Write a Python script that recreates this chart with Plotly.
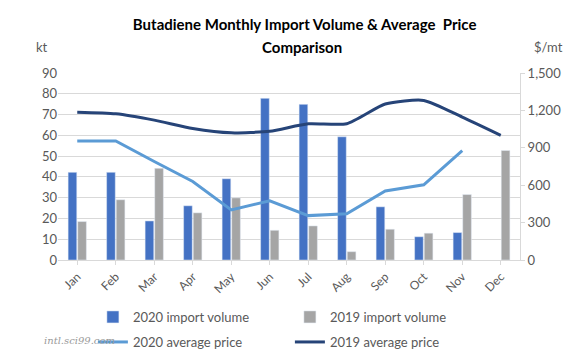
import plotly.graph_objects as go

months = ["Jan", "Feb", "Mar", "Apr", "May", "Jun", "Jul", "Aug", "Sep", "Oct", "Nov", "Dec"]
vol_2020 = [42.2, 42.2, 18.8, 26.1, 39.1, 77.8, 74.9, 59.3, 25.6, 11.2, 13.2, None]
vol_2019 = [18.5, 29.0, 44.1, 22.7, 29.9, 14.3, 16.4, 4.0, 14.8, 12.9, 31.5, 52.7]
price_2020 = [955, 955, 790, 630, 402, 475, 356, 370, 554, 603, 878, None]
price_2019 = [1186, 1173, 1122, 1055, 1020, 1033, 1093, 1093, 1251, 1280, 1146, 1000]
left_ticks = list(range(0, 91, 10))
right_ticks = [0, 300, 600, 900, 1200, 1500]

FONT = "Lato, Open Sans, sans-serif"
GREY = "#595959"

fig = go.Figure()
fig.add_trace(go.Bar(x=months, y=vol_2020, name="2020 import volume", marker_color="#4472C4",
                     legend="legend"))
fig.add_trace(go.Bar(x=months, y=vol_2019, name="2019 import volume", marker_color="#A5A5A5",
                     legend="legend"))
fig.add_trace(go.Scatter(x=months, y=price_2020, name="2020 average price", yaxis="y2",
                         mode="lines", line=dict(color="#5B9BD5", width=3), legend="legend2"))
fig.add_trace(go.Scatter(x=months, y=price_2019, name="2019 average price", yaxis="y2",
                         mode="lines", line=dict(color="#264478", width=3, shape="spline",
                                                 smoothing=0.6), legend="legend2"))

legend_common = dict(orientation="h", xref="container", yref="container",
                     x=0.161, xanchor="left", yanchor="middle",
                     entrywidth=152, entrywidthmode="pixels",
                     font=dict(family=FONT, size=13, color=GREY), itemwidth=30,
                     bgcolor="rgba(0,0,0,0)")

fig.update_layout(
    width=577, height=363,
    margin=dict(l=58, r=57, t=73, b=103, autoexpand=False),
    paper_bgcolor="white", plot_bgcolor="white",
    font=dict(family=FONT, size=12, color=GREY),
    title=dict(text="<b>Butadiene Monthly Import Volume & Average  Price</b>",
               x=0.528, xanchor="center", y=1 - 25 / 363, yanchor="middle",
               font=dict(family=FONT, size=15, color="#000000")),
    barmode="group", bargap=0.5, bargroupgap=0.1,
    showlegend=True,
    legend=dict(legend_common, y=1 - 317 / 363),
    legend2=dict(legend_common, y=1 - 342 / 363),
    xaxis=dict(tickangle=-45, showline=True, linecolor="#D9D9D9", ticks="outside",
               tickcolor="#D9D9D9", ticklen=4, tickfont=dict(size=12, color=GREY)),
    yaxis=dict(range=[0, 90], tickvals=left_ticks, showgrid=True, gridcolor="#D9D9D9",
               zeroline=False, showline=False, tickfont=dict(size=13, color=GREY)),
    yaxis2=dict(range=[0, 1500], tickvals=right_ticks, tickformat=",", overlaying="y",
                side="right", showgrid=False, zeroline=False, showline=True,
                linecolor="#D9D9D9", ticks="outside", tickcolor="#D9D9D9", ticklen=4,
                tickfont=dict(size=13, color=GREY)),
)

fig.add_annotation(text="<b>Comparison</b>", xref="paper", yref="paper", x=0.528, y=1.139,
                   showarrow=False, xanchor="center", yanchor="middle",
                   font=dict(family=FONT, size=15, color="#000000"))
fig.add_annotation(text="kt", xref="paper", yref="paper", x=-0.017, y=1.14,
                   showarrow=False, xanchor="right", yanchor="middle",
                   font=dict(size=13, color=GREY))
fig.add_annotation(text="$/mt", xref="paper", yref="paper", x=1.025, y=1.14,
                   showarrow=False, xanchor="left", yanchor="middle",
                   font=dict(size=13, color=GREY))
fig.add_annotation(text="<i>intl.sci99.com</i>", xref="paper", yref="paper",
                   x=-0.035, y=-0.433, showarrow=False, xanchor="left", yanchor="middle",
                   font=dict(family="DejaVu Serif, serif", size=10, color="#9A9A9A"))

fig.write_html("out.html", config={"displayModeBar": False},
               post_script="document.body.style.margin='0';")
